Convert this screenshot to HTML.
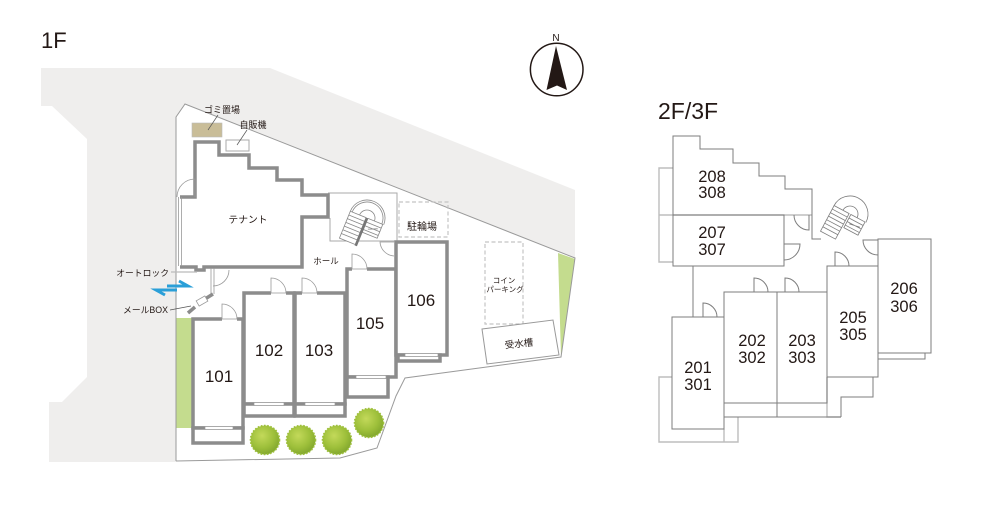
<!DOCTYPE html>
<html><head><meta charset="utf-8"><style>
html,body{margin:0;padding:0;background:#fff;}
svg{display:block;}
text{font-family:"Liberation Sans","Noto Sans CJK JP",sans-serif;fill:#231815;}
.jp{font-family:"Liberation Sans","Noto Sans CJK JP",sans-serif;}
</style></head><body>
<svg width="1000" height="518" viewBox="0 0 1000 518" xmlns="http://www.w3.org/2000/svg">
<defs>
<radialGradient id="tg" cx="0.4" cy="0.35" r="0.7">
<stop offset="0" stop-color="#c3d95a"/><stop offset="0.6" stop-color="#9dbf3a"/><stop offset="1" stop-color="#7ea42c"/>
</radialGradient>
</defs>

<!-- gray surroundings -->
<polygon points="41,68 270,68 575,190 575,258 185,104 176,117 176,462 49,462 49,402 62,402 87,377 87,139 52,106 41,106" fill="#efeeed"/>
<!-- green strips -->
<rect x="176" y="318" width="17" height="110" fill="#c4dc8e"/>
<polygon points="558,253 575,259 561,357" fill="#c4dc8e"/>
<!-- site boundary -->
<polyline points="176,461 176,117 185,104 575,258 561,357 405,378 396,396 377,448 340,458 176,461" fill="none" stroke="#9a9a9a" stroke-width="1"/>

<!-- stair hall box -->
<path d="M328,193 L397,193 L397,242 M330,218 L330,241 L395,241" fill="none" stroke="#aaa" stroke-width="1"/>
<!-- 1F stair -->
<g transform="translate(367,218) rotate(22)" fill="none" stroke="#888" stroke-width="0.8">
<path d="M-18,0 A18,18 0 0 1 18,0 M-16,0 A16,16 0 0 1 16,0 M-8,0 A8,8 0 0 1 8,0"/>
<rect x="-18" y="0" width="17" height="29" fill="#fff"/>
<path d="M-18,4 H-1 M-18,8 H-1 M-18,12 H-1 M-18,16 H-1 M-18,20 H-1 M-18,24 H-1"/>
<rect x="1" y="0" width="16" height="15" fill="#fff"/>
<path d="M1,4 H17 M1,8 H17 M1,12 H17 M5,10 L14,6"/>
<line x1="0" y1="0" x2="0" y2="30" stroke="#777" stroke-width="2.5"/>
</g>

<!-- dashed areas -->
<rect x="399" y="202" width="49" height="35" fill="none" stroke="#c4c4c4" stroke-width="1.2" stroke-dasharray="4,2.5"/>
<rect x="485" y="242" width="38" height="82" fill="none" stroke="#c4c4c4" stroke-width="1.2" stroke-dasharray="4,2.5"/>
<polygon points="482,329 553,320 559,355 487,364" fill="#fff" stroke="#999" stroke-width="1"/>

<!-- garbage & vending -->
<rect x="192" y="123" width="30" height="14" fill="#c9bd98" stroke="#bbb" stroke-width="0.6"/>
<rect x="226" y="140" width="23" height="11" fill="#fff" stroke="#aaa" stroke-width="1"/>
<line x1="218" y1="115" x2="208" y2="130" stroke="#555" stroke-width="0.7"/>
<line x1="247" y1="130" x2="237" y2="145" stroke="#555" stroke-width="0.7"/>

<!-- tenant -->
<g stroke="#8c8c8c" stroke-width="3.5" fill="#fff" stroke-linejoin="miter">
<polygon points="180,197 195,197 195,142 219,142 219,155 249,155 249,168 277,168 277,180 302,180 302,195 328,195 328,217 302,217 302,267 180,267" stroke="none"/>
<polyline fill="none" points="180,197 195,197 195,142 219,142 219,155 249,155 249,168 277,168 277,180 302,180 302,195 328,195 328,217 302,217 302,267 204,267 204,270 196,270 196,267 180,267"/>
</g>
<path d="M178.5,197 V266 M181.5,197 V266" stroke="#999" stroke-width="0.8" fill="none"/>
<path d="M195,197 L195,179 A18,18 0 0 0 177,197" fill="none" stroke="#999" stroke-width="0.8"/>

<!-- entrance -->
<path d="M171,272 H197" stroke="#bbb" stroke-width="1.2"/>
<path d="M211,268 V296 M214,268 V294" stroke="#999" stroke-width="0.8"/>
<path d="M229,270 A16,16 0 0 1 213,286" fill="none" stroke="#999" stroke-width="0.8"/>
<path d="M188,313 L195,307 M205,299 L213,294" stroke="#8c8c8c" stroke-width="3.5"/>
<rect x="197" y="298" width="10" height="6" fill="#fff" stroke="#999" stroke-width="0.8" transform="rotate(-30 202 301)"/>
<line x1="170" y1="310" x2="191" y2="306" stroke="#555" stroke-width="0.7"/>
<!-- blue arrows -->
<g stroke="#2a9fd8" stroke-width="3" fill="none" stroke-linecap="butt">
<path d="M167,286 H188 L179,281"/>
<path d="M177,290 H156 L165,295"/>
</g>

<!-- 1F units -->
<g stroke="#8c8c8c" stroke-width="3.5" fill="#fff">
<rect x="193" y="319" width="50" height="109"/>
<rect x="193" y="428" width="50" height="15"/>
<rect x="244" y="293" width="50" height="111"/>
<rect x="244" y="404" width="50" height="12"/>
<rect x="295" y="293" width="50" height="111"/>
<rect x="295" y="404" width="50" height="12"/>
<rect x="347" y="269" width="49" height="108"/>
<rect x="347" y="377" width="41" height="20"/>
<rect x="396" y="242" width="51" height="113"/>
<rect x="398" y="355" width="42" height="6"/>
</g>
<!-- windows -->
<g fill="#fff" stroke="#999" stroke-width="0.7">
<rect x="205" y="426.5" width="28" height="3"/>
<rect x="254" y="402.5" width="30" height="3"/>
<rect x="305" y="402.5" width="30" height="3"/>
<rect x="356" y="375.5" width="30" height="3"/>
<rect x="405" y="353.5" width="33" height="3"/>
</g>
<!-- door openings -->
<g fill="#fff" stroke="none">
<rect x="222" y="317" width="15" height="4"/>
<rect x="271" y="291" width="15" height="4"/>
<rect x="302" y="291" width="15" height="4"/>
<rect x="352" y="267" width="15" height="4"/>
</g>
<g fill="none" stroke="#999" stroke-width="0.8">
<path d="M222,319 H237 M222,319 V304 A15,15 0 0 1 237,319"/>
<path d="M271,293 H286 M271,293 V278 A15,15 0 0 1 286,293"/>
<path d="M302,293 H317 M302,293 V278 A15,15 0 0 1 317,293"/>
<path d="M352,269 H367 M352,269 V254 A15,15 0 0 1 367,269"/>
<path d="M394,242 H380 A15,15 0 0 0 394,256"/>
</g>

<!-- trees -->
<g>
<circle cx="265" cy="440" r="14.5" fill="url(#tg)"/>
<circle cx="265" cy="440" r="14.5" fill="none" stroke="#9dbf3a" stroke-width="1.6" stroke-dasharray="1.6,1.6"/>
<circle cx="301" cy="440" r="14.5" fill="url(#tg)"/>
<circle cx="301" cy="440" r="14.5" fill="none" stroke="#9dbf3a" stroke-width="1.6" stroke-dasharray="1.6,1.6"/>
<circle cx="337" cy="440" r="14.5" fill="url(#tg)"/>
<circle cx="337" cy="440" r="14.5" fill="none" stroke="#9dbf3a" stroke-width="1.6" stroke-dasharray="1.6,1.6"/>
<circle cx="369" cy="423" r="14.5" fill="url(#tg)"/>
<circle cx="369" cy="423" r="14.5" fill="none" stroke="#9dbf3a" stroke-width="1.6" stroke-dasharray="1.6,1.6"/>
</g>

<!-- 1F labels -->
<text x="41" y="48" font-size="22">1F</text>
<text x="222" y="113" font-size="9" text-anchor="middle">ゴミ置場</text>
<text x="253" y="128" font-size="9" text-anchor="middle">自販機</text>
<text x="248" y="223" font-size="9.8" text-anchor="middle">テナント</text>
<text x="326" y="264" font-size="8.5" text-anchor="middle">ホール</text>
<text x="169" y="276" font-size="8.8" text-anchor="end">オートロック</text>
<text x="168" y="313" font-size="8.8" text-anchor="end">メールBOX</text>
<text x="422" y="230" font-size="10" text-anchor="middle">駐輪場</text>
<text x="504" y="283" font-size="7.5" text-anchor="middle">コイン</text>
<text x="505" y="292" font-size="7.5" text-anchor="middle">パーキング</text>
<text x="519" y="347" font-size="9.5" text-anchor="middle" transform="rotate(-6 519 344)">受水槽</text>
<g font-size="17" text-anchor="middle">
<text x="219" y="382">101</text>
<text x="269" y="356">102</text>
<text x="319" y="356">103</text>
<text x="370" y="329">105</text>
<text x="421" y="306">106</text>
</g>

<!-- compass -->
<circle cx="556.7" cy="69.5" r="26.3" fill="none" stroke="#231815" stroke-width="1.5"/>
<polygon points="556,46 546.5,90 557,85.5 567,90" fill="#231815"/>
<text x="556" y="41" font-size="10" text-anchor="middle">N</text>

<!-- 2F/3F -->
<text x="658" y="119" font-size="23">2F/3F</text>
<g fill="none" stroke="#bdbdbd" stroke-width="1.4">
<path d="M673,168 H659 V262 H673"/>
<path d="M659,215 H812"/>
<path d="M672,377 H659 V442 H738 V417"/>
<path d="M724,429 V442"/>
<path d="M827,377 V417 H841"/>
</g>
<g fill="none" stroke="#7d7d7d" stroke-width="1">
<path d="M673,266 V136 H700 V149 H733 V163 H759 V176 H785 V189 H812 V239 H821"/>
<rect x="673" y="215" width="111" height="51"/>
<path d="M693,266 V317"/>
<rect x="672" y="317" width="52" height="112"/>
<rect x="724" y="292" width="53" height="111"/>
<rect x="777" y="292" width="50" height="111"/>
<path d="M724,403 V417 H841 M777,403 V417"/>
<rect x="827" y="266" width="51" height="111"/>
<path d="M873,377 V397 H841 V417"/>
<rect x="878" y="239" width="53" height="114"/>
<path d="M878,353 V359 H925 V353"/>
<!-- doors -->
<path d="M809,215 V230 A15,15 0 0 1 794,215"/>
<path d="M784,244 H800 A16,16 0 0 1 784,260"/>
<path d="M878,240 H863 A15,15 0 0 0 878,255"/>
<path d="M835,266 V252 A14,14 0 0 1 849,266"/>
<path d="M754,292 V278 A14,14 0 0 1 768,292"/>
<path d="M785,292 V278 A14,14 0 0 1 799,292"/>
<path d="M703,317 V303 A14,14 0 0 1 717,317"/>
</g>
<!-- 2F stair -->
<g transform="translate(850,214) rotate(28)" fill="none" stroke="#7d7d7d" stroke-width="0.8">
<path d="M-18,0 A18,18 0 0 1 18,0 M-8,0 A8,8 0 0 1 8,0"/>
<rect x="-18" y="0" width="17" height="29" fill="#fff"/>
<path d="M-18,4 H-1 M-18,8 H-1 M-18,12 H-1 M-18,16 H-1 M-18,20 H-1 M-18,24 H-1"/>
<rect x="1" y="0" width="16" height="15" fill="#fff"/>
<path d="M1,4 H17 M1,8 H17 M1,12 H17 M4,9 L15,7"/>
</g>
<g font-size="16.5" text-anchor="middle">
<text x="712" y="182">208</text><text x="712" y="198">308</text>
<text x="712" y="238">207</text><text x="712" y="255">307</text>
<text x="698" y="373">201</text><text x="698" y="390">301</text>
<text x="752" y="346">202</text><text x="752" y="363">302</text>
<text x="802" y="346">203</text><text x="802" y="363">303</text>
<text x="853" y="323">205</text><text x="853" y="340">305</text>
<text x="904" y="294">206</text><text x="904" y="312">306</text>
</g>
</svg>
</body></html>
